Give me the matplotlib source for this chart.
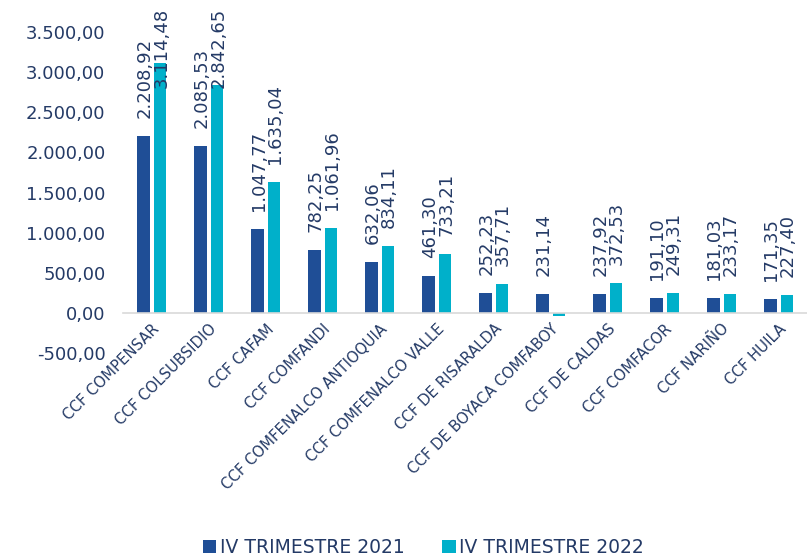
import matplotlib.pyplot as plt
import numpy as np

plt.rcParams['font.family'] = ['DejaVu Sans']

# datos
cajas = ["CCF COMPENSAR", "CCF COLSUBSIDIO", "CCF CAFAM", "CCF COMFANDI",
         "CCF COMFENALCO ANTIOQUIA", "CCF COMFENALCO VALLE", "CCF DE RISARALDA",
         "CCF DE BOYACA COMFABOY", "CCF DE CALDAS", "CCF COMFACOR",
         "CCF NARIÑO", "CCF HUILA"]
trim_2021 = [2208.92, 2085.53, 1047.77, 782.25, 632.06, 461.30, 252.23,
             231.14, 237.92, 191.10, 181.03, 171.35]
trim_2022 = [3114.48, 2842.65, 1635.04, 1061.96, 834.11, 733.21, 357.71,
             -35.0, 372.53, 249.31, 233.17, 227.40]
mostrar_2022 = [True, True, True, True, True, True, True,
                False, True, True, True, True]

azul = "#1F4E96"
turquesa = "#00B0CA"
texto = "#243A66"

def fmt(v):
    s = "{:,.2f}".format(v)
    return s.replace(",", "X").replace(".", ",").replace("X", ".")

fig = plt.figure(figsize=(8.07, 5.56), dpi=100)
ax = fig.add_axes([0.153, 0.365, 0.847, 0.5774])

# eje horizontal en el cero (antes de fijar los ticks)
for s in ["top", "right", "left"]:
    ax.spines[s].set_visible(False)
ax.spines["bottom"].set_position(("data", 0))
ax.spines["bottom"].set_color("#D9D9D9")
ax.spines["bottom"].set_linewidth(1.2)

x = np.arange(len(cajas))
w = 0.22
d = 0.145
b1 = ax.bar(x - d, trim_2021, width=w, color=azul, label="IV TRIMESTRE 2021")
b2 = ax.bar(x + d, trim_2022, width=w, color=turquesa, label="IV TRIMESTRE 2022")

# etiquetas: separadas de la barra y limitadas al borde superior
y_max_etiqueta = 2800
def etiqueta(r, v):
    y = min(v + 224, y_max_etiqueta)
    ax.text(r.get_x() + r.get_width()/2 + 0.02, y, fmt(v), rotation=90,
            ha="center", va="bottom", fontsize=13, color=texto, clip_on=False)

for r, v in zip(b1, trim_2021):
    etiqueta(r, v)
for r, v, m in zip(b2, trim_2022, mostrar_2022):
    if m:
        etiqueta(r, v)

ax.set_ylim(-500, 3500)
ax.set_xlim(-0.5, len(cajas) - 0.5)
ticks = np.arange(-500, 3501, 500)
ax.set_yticks(ticks)
ax.set_yticklabels([fmt(t) for t in ticks])
ax.tick_params(axis="y", length=0, labelsize=13, colors=texto, pad=13)
ax.set_xticks(x)
ax.set_xticklabels(cajas, rotation=45, ha="right", va="top",
                   rotation_mode="anchor", fontsize=10.7, color=texto)
ax.tick_params(axis="x", length=0, pad=6)

fig.legend(handles=[b1, b2], loc="lower center", bbox_to_anchor=(0.525, -0.032),
           ncol=2, frameon=False, fontsize=13.5, handlelength=0.7, handleheight=0.7,
           handletextpad=0.2, columnspacing=2.0, labelcolor=texto)

fig.savefig("out.png", dpi=100)
